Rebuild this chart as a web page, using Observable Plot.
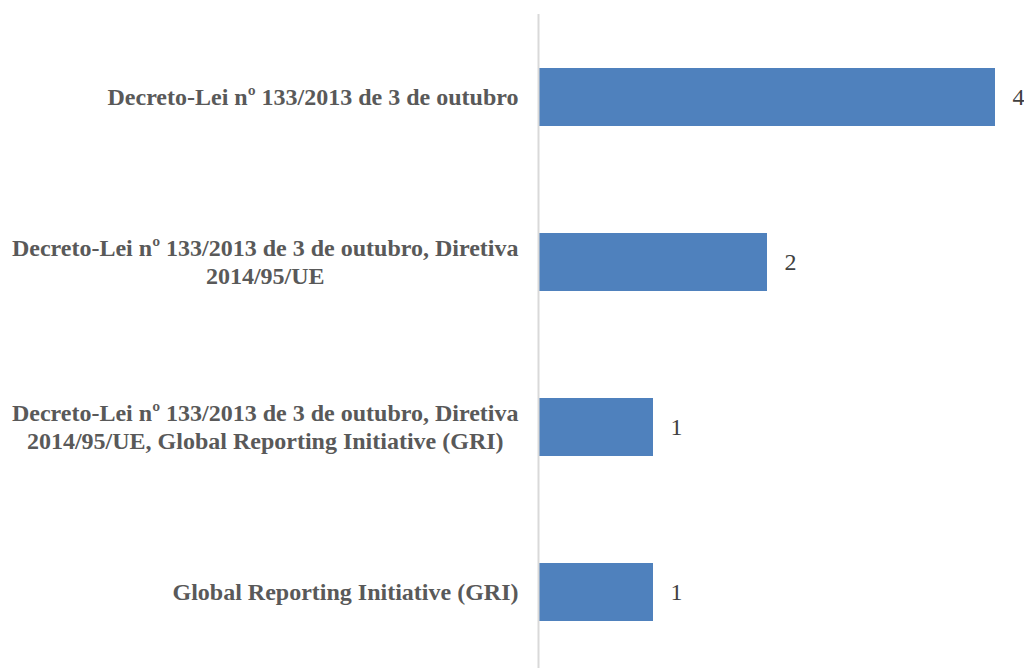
<!DOCTYPE html>
<html>
<head>
<meta charset="utf-8">
<script src="https://cdn.jsdelivr.net/npm/d3@7"></script>
<script src="https://cdn.jsdelivr.net/npm/@observablehq/plot@0.6"></script>
<style>
html, body { margin: 0; padding: 0; background: #fff; }
#chart svg { display: block; }
</style>
</head>
<body>
<div id="chart"></div>
<script>
const categories = [
  "Decreto-Lei nº 133/2013 de 3 de outubro",
  "Decreto-Lei nº 133/2013 de 3 de outubro, Diretiva 2014/95/UE",
  "Decreto-Lei nº 133/2013 de 3 de outubro, Diretiva 2014/95/UE, Global Reporting Initiative (GRI)",
  "Global Reporting Initiative (GRI)"
];
const categoryLines = [
  ["Decreto-Lei nº 133/2013 de 3 de outubro"],
  ["Decreto-Lei nº 133/2013 de 3 de outubro, Diretiva", "2014/95/UE"],
  ["Decreto-Lei nº 133/2013 de 3 de outubro, Diretiva", "2014/95/UE, Global Reporting Initiative (GRI)"],
  ["Global Reporting Initiative (GRI)"]
];
const values = [4, 2, 1, 1];

const FONT = "'Liberation Serif', 'Times New Roman', serif";
const LABEL_SIZE = 24;
const LINE_H = 28;

const data = categories.map((c, i) => ({category: c, value: values[i]}));

const ctx = document.createElement("canvas").getContext("2d");
ctx.font = `bold ${LABEL_SIZE}px ${FONT}`;
const lineRows = [];
categories.forEach((c, i) => {
  const lines = categoryLines[i];
  const w = Math.max(...lines.map(l => ctx.measureText(l).width));
  lines.forEach((l, j) => {
    lineRows.push({
      category: c,
      text: l,
      dx: -21 - w / 2,
      dy: (j - (lines.length - 1) / 2) * LINE_H
    });
  });
});

const textMarks = lineRows.map(r => Plot.text([r], {
  x: () => 0, y: "category", text: "text",
  dx: r.dx, dy: r.dy, textAnchor: "middle",
  fill: "#595959", fontWeight: "bold", fontSize: LABEL_SIZE, fontFamily: FONT
}));

const chart = Plot.plot({
  width: 1024,
  height: 668,
  marginLeft: 539,
  marginRight: 29,
  marginTop: 14,
  marginBottom: 0,
  style: {fontFamily: FONT, background: "#fff"},
  x: {domain: [0, 4], axis: null},
  y: {domain: categories, range: [13, 675], paddingInner: 0.65, paddingOuter: 0.325, axis: null},
  marks: [
    Plot.barX(data, {x: "value", y: "category", fill: "#4F81BD"}),
    Plot.ruleX([0], {stroke: "#d9d9d9", strokeWidth: 2, dx: -1}),
    Plot.text(data, {x: "value", y: "category", text: d => String(d.value), dx: 17, textAnchor: "start",
      fill: "#404040", fontSize: 24, fontFamily: FONT}),
    ...textMarks
  ]
});
document.getElementById("chart").appendChild(chart);
</script>
</body>
</html>
